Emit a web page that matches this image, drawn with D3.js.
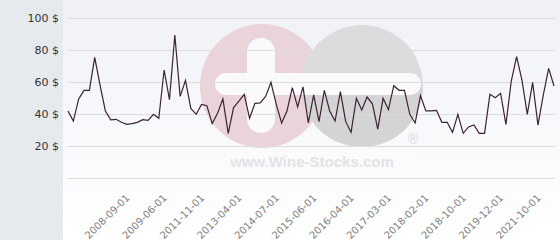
<!DOCTYPE html>
<html>
<head>
<meta charset="utf-8">
<script src="https://cdn.jsdelivr.net/npm/d3@7"></script>
<style>
  body { margin: 0; background: #fff; }
  svg { display: block; }
  .ylab { font-family: "DejaVu Sans", sans-serif; font-size: 11px; fill: #333; }
  .xlab { font-family: "DejaVu Sans", sans-serif; font-size: 10px; fill: #808080; }
</style>
</head>
<body>
<div id="chart"></div>
<script>
// price per month
var prices = [41.9, 35.6, 49.4, 54.8, 54.8, 75.4, 58, 41.9, 36.3, 36.7,
  34.8, 33.5, 34, 34.8, 36.5, 36, 39.8, 37.3, 67.5, 49,
  89.4, 51, 61, 43.5, 39.8, 46, 45.2, 34, 40.4, 49.4,
  27.9, 44, 48, 52.3, 37.3, 46.7, 46.9, 51, 59.8, 46,
  34.4, 41.9, 56.5, 44.4, 56.9, 34.4, 51.9, 35.2, 54.8, 41.9,
  35.6, 54, 35.2, 28.5, 49.8, 42.5, 50.6, 46.4, 30.6, 49.8,
  42.7, 57.7, 54.8, 54.8, 39.8, 34.4, 51.5, 41.9, 41.9, 42.3,
  34.8, 34.8, 28.5, 39.8, 27.9, 31.9, 33.1, 27.9, 27.9, 52.3,
  50.2, 52.9, 33.5, 60.6, 75.8, 61.2, 39.8, 59.8, 33.1, 51.9,
  68.5, 57.5];

var dateLabels = ["2008-09-01", "2009-06-01", "2011-11-01", "2013-04-01",
  "2014-07-01", "2015-06-01", "2016-04-01", "2017-03-01", "2018-02-01",
  "2018-10-01", "2019-12-01", "2021-10-01"];
var dateIndex = [11, 18, 25, 32, 39, 46, 53, 60, 67, 74, 81, 88];

var yTicks = [0, 20, 40, 60, 80, 100];

var w = 560, h = 240;
var svg = d3.select("#chart").append("svg").attr("width", w).attr("height", h);
var defs = svg.append("defs");

var bg = defs.append("linearGradient").attr("id", "bggrad")
  .attr("x1", "0").attr("y1", "0").attr("x2", "0").attr("y2", "1");
bg.append("stop").attr("offset", "0%").attr("stop-color", "#eff1f6");
bg.append("stop").attr("offset", "100%").attr("stop-color", "#ffffff");

svg.append("rect").attr("x", 0).attr("y", 0).attr("width", w).attr("height", h)
  .attr("fill", "url(#bggrad)");
svg.append("rect").attr("x", 0).attr("y", 0).attr("width", 63).attr("height", h)
  .attr("fill", "#e6eaee");

var x = d3.scalePoint().domain(d3.range(prices.length)).range([68, 554]);
var y = d3.scaleLinear().domain([0, 100]).range([178, 18]);

// watermark
var wm = svg.append("g");
wm.append("circle").attr("cx", 262).attr("cy", 86).attr("r", 62).attr("fill", "#ead3d9");
wm.append("clipPath").attr("id", "grayclip").append("circle")
  .attr("cx", 362).attr("cy", 86).attr("r", 61);
wm.append("circle").attr("cx", 362).attr("cy", 86).attr("r", 61).attr("fill", "#dcdcde");
wm.append("rect").attr("x", 300).attr("y", 88).attr("width", 130).attr("height", 70)
  .attr("fill", "#d4d4d6").attr("clip-path", "url(#grayclip)");
wm.append("rect").attr("x", 247).attr("y", 38).attr("width", 28).attr("height", 95)
  .attr("rx", 14).attr("fill", "#fafafc");
wm.append("rect").attr("x", 215).attr("y", 73).attr("width", 206).attr("height", 22)
  .attr("rx", 11).attr("fill", "#fafafc");
wm.append("rect").attr("x", 226).attr("y", 150).attr("width", 196).attr("height", 22)
  .attr("fill", "#fbfbfd");
wm.append("text").attr("x", 312).attr("y", 167).attr("text-anchor", "middle")
  .style("font-family", "'Liberation Sans', Arial, sans-serif").style("font-weight", "bold")
  .style("font-size", "15px").attr("fill", "#e3e3e5").text("www.Wine-Stocks.com");
wm.append("text").attr("x", 413).attr("y", 144).attr("text-anchor", "middle")
  .style("font-family", "'Liberation Sans', Arial, sans-serif")
  .style("font-size", "14px").attr("fill", "#d8d8da").text("®");

// grid + y labels
svg.selectAll("line.grid").data(yTicks).enter().append("line")
  .attr("class", "grid")
  .attr("x1", 68).attr("x2", 555)
  .attr("y1", function(d) { return y(d) + 0.5; })
  .attr("y2", function(d) { return y(d) + 0.5; })
  .attr("stroke", "#dcdcdf").attr("stroke-width", 1);

svg.selectAll("text.ylab").data(yTicks.filter(function(d) { return d > 0; })).enter()
  .append("text").attr("class", "ylab")
  .attr("x", 59).attr("y", function(d) { return y(d) + 4; })
  .attr("text-anchor", "end")
  .text(function(d) { return d + " $"; });

// x labels
svg.selectAll("text.xlab").data(dateLabels).enter().append("text")
  .attr("class", "xlab")
  .attr("text-anchor", "end")
  .attr("transform", function(d, i) {
    return "translate(" + (x(dateIndex[i]) + 1) + ",196) rotate(-45)";
  })
  .attr("dy", "0.35em")
  .text(function(d) { return d; });

// price line
var line = d3.line()
  .x(function(d, i) { return x(i); })
  .y(function(d) { return y(d); });

svg.append("path").datum(prices)
  .attr("d", line)
  .attr("fill", "none")
  .attr("stroke", "#3d2331")
  .attr("stroke-width", 1.2)
  .attr("stroke-linejoin", "miter");
</script>
</body>
</html>
